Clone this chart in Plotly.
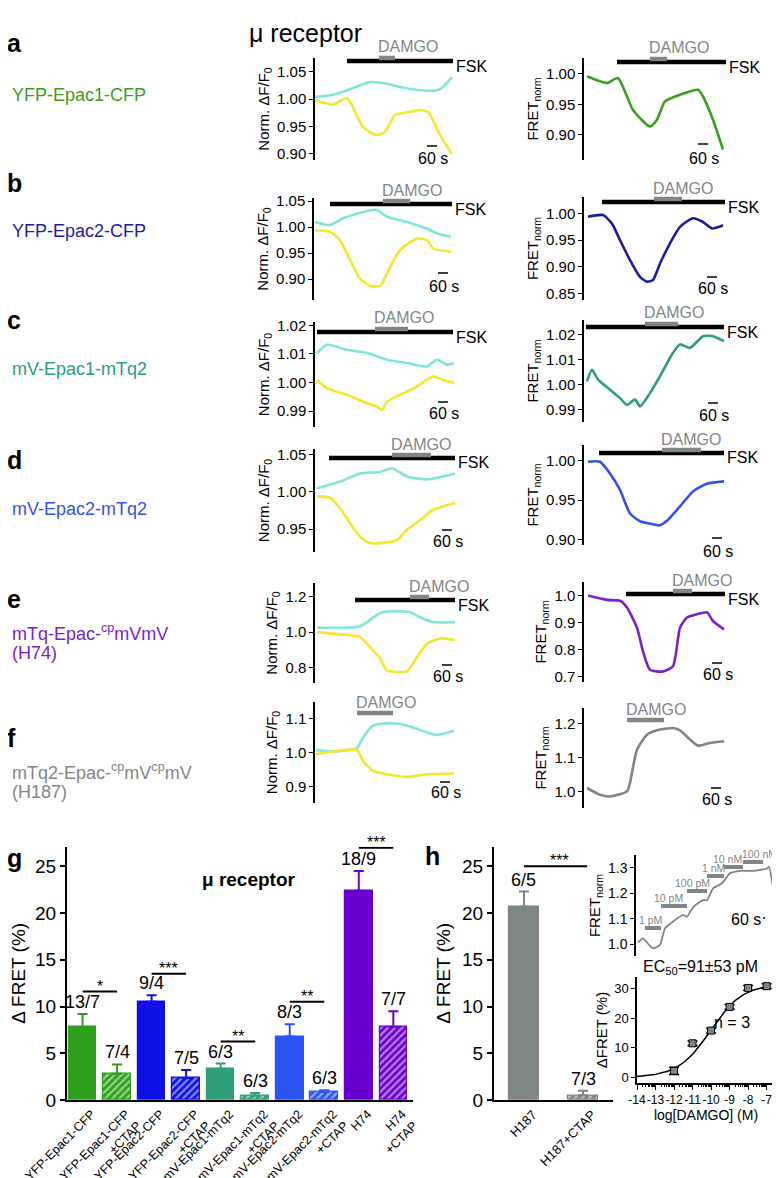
import math
import plotly.graph_objects as go

W, H = 780, 1178
OFF = 8                      # browser body margin offset
FW, FH = W - OFF, H - OFF    # figure size so that page == 780 x 1178
FONT = "Liberation Sans, Arial, Helvetica, sans-serif"

# ---------------- trace data (time in s from trace start, normalized values) ----------------
# panel a
A_L_T_CYAN = [0, 108, 192, 330, 432, 510, 672, 750, 822]
A_L_CYAN = [1.004, 1.008, 1.016, 1.031, 1.028, 1.022, 1.015, 1.018, 1.040]
A_L_T_YEL = [0, 108, 192, 288, 366, 420, 480, 552, 642, 684, 744, 822]
A_L_YEL = [0.998, 0.990, 1.002, 0.949, 0.935, 0.940, 0.971, 0.976, 0.980, 0.975, 0.938, 0.900]
A_R_T = [0, 120, 186, 276, 378, 420, 468, 558, 666, 696, 756, 816]
A_R = [0.996, 0.985, 0.993, 0.941, 0.914, 0.925, 0.955, 0.966, 0.974, 0.963, 0.925, 0.876]
A_L_FSK, A_L_DAMGO = [192, 828], [384, 480]
A_R_FSK, A_R_DAMGO = [180, 834], [378, 480]

# panel b
B_L_T_CYAN = [0, 90, 168, 312, 372, 432, 552, 672, 732, 816]
B_L_CYAN = [1.010, 1.004, 1.017, 1.031, 1.033, 1.020, 1.010, 0.997, 0.988, 0.981]
B_L_T_YEL = [0, 90, 150, 210, 270, 330, 390, 432, 510, 612, 672, 708, 816]
B_L_YEL = [0.994, 0.991, 0.975, 0.937, 0.901, 0.887, 0.887, 0.911, 0.956, 0.978, 0.975, 0.959, 0.953]
B_R_T = [0, 90, 144, 192, 252, 312, 354, 390, 432, 492, 552, 630, 690, 744, 810]
B_R = [0.994, 0.997, 0.981, 0.950, 0.9125, 0.881, 0.872, 0.875, 0.906, 0.944, 0.975, 0.991, 0.984, 0.972, 0.978]
B_L_FSK, B_L_DAMGO = [90, 822], [408, 570]
B_R_FSK, B_R_DAMGO = [84, 822], [396, 564]

# panel c
C_L_T_CYAN = [0, 60, 180, 300, 420, 540, 660, 720, 780, 822]
C_L_CYAN = [1.0103, 1.0132, 1.0115, 1.0103, 1.0080, 1.0068, 1.0056, 1.0080, 1.0062, 1.0068]
C_L_T_YEL = [0, 60, 180, 300, 360, 390, 420, 498, 600, 696, 756, 822]
C_L_YEL = [1.0009, 0.9980, 0.9957, 0.9927, 0.9916, 0.9904, 0.9933, 0.9957, 0.9986, 1.0021, 1.0009, 0.9998]
C_R_T = [0, 30, 66, 138, 198, 240, 288, 318, 378, 438, 516, 558, 618, 696, 756, 822]
C_R = [1.0013, 1.0060, 1.0020, 0.9980, 0.9946, 0.9919, 0.9940, 0.9913, 0.9966, 1.0034, 1.0128, 1.0162, 1.0148, 1.0195, 1.0195, 1.0175]
C_L_FSK, C_L_DAMGO = [0, 816], [348, 546]
C_R_FSK, C_R_DAMGO = [-6, 822], [348, 546]

# panel d
D_L_T_CYAN = [0, 138, 258, 378, 450, 540, 660, 756, 828]
D_L_CYAN = [1.005, 1.014, 1.025, 1.027, 1.032, 1.021, 1.017, 1.021, 1.025]
D_L_T_YEL = [0, 78, 138, 198, 258, 318, 420, 480, 540, 618, 696, 780, 828]
D_L_YEL = [0.994, 0.992, 0.978, 0.958, 0.940, 0.931, 0.932, 0.935, 0.949, 0.962, 0.976, 0.982, 0.985]
D_R_T = [0, 72, 132, 192, 252, 312, 372, 432, 480, 552, 630, 714, 816]
D_R = [0.999, 0.999, 0.984, 0.963, 0.933, 0.923, 0.920, 0.918, 0.925, 0.942, 0.961, 0.971, 0.974]
D_L_FSK, D_L_DAMGO = [72, 828], [450, 684]
D_R_FSK, D_R_DAMGO = [66, 816], [444, 678]

# panel e
E_L_T_CYAN = [0, 258, 300, 378, 456, 558, 618, 696, 828]
E_L_CYAN = [1.025, 1.032, 1.057, 1.108, 1.119, 1.113, 1.085, 1.057, 1.057]
E_L_T_YEL = [0, 138, 258, 318, 378, 420, 540, 600, 660, 738, 828]
E_L_YEL = [1.000, 0.987, 0.972, 0.915, 0.851, 0.783, 0.777, 0.858, 0.934, 0.964, 0.955]
E_R_T = [0, 114, 192, 234, 294, 330, 372, 450, 510, 552, 594, 654, 714, 750, 816]
E_R = [1.000, 0.984, 0.981, 0.956, 0.881, 0.794, 0.726, 0.720, 0.739, 0.881, 0.919, 0.931, 0.938, 0.906, 0.875]
E_L_FSK, E_L_DAMGO = [228, 828], [558, 672]
E_R_FSK, E_R_DAMGO = [228, 822], [510, 624]

# panel f
F_L_T_CYAN = [0, 102, 186, 246, 282, 342, 426, 504, 582, 666, 726, 828]
F_L_CYAN = [1.007, 1.003, 1.007, 1.013, 1.044, 1.079, 1.086, 1.084, 1.074, 1.059, 1.052, 1.064]
F_L_T_YEL = [0, 102, 246, 282, 342, 426, 546, 666, 828]
F_L_YEL = [0.995, 1.003, 1.007, 0.975, 0.946, 0.936, 0.928, 0.936, 0.938]
F_R_T = [0, 78, 138, 240, 258, 300, 360, 420, 516, 558, 618, 666, 738, 822]
F_R = [1.010, 0.990, 0.985, 1.000, 1.025, 1.123, 1.167, 1.180, 1.187, 1.180, 1.153, 1.135, 1.143, 1.148]
F_L_DAMGO = [246, 462]
F_R_DAMGO = [240, 462]

# panel g (bar chart)
G_LABELS = ["YFP-Epac1-CFP", "YFP-Epac1-CFP<br>+CTAP", "YFP-Epac2-CFP", "YFP-Epac2-CFP<br>+CTAP",
            "mV-Epac1-mTq2", "mV-Epac1-mTq2<br>+CTAP", "mV-Epac2-mTq2", "mV-Epac2-mTq2<br>+CTAP",
            "H74", "H74<br>+CTAP"]
G_VALUES = [7.8, 2.8, 10.5, 2.35, 3.35, 0.45, 6.8, 0.85, 22.4, 7.85]
G_SEM = [1.4, 1.0, 0.7, 0.85, 0.55, 0.3, 1.3, 0.2, 2.1, 1.65]
G_N = ["13/7", "7/4", "9/4", "7/5", "6/3", "6/3", "8/3", "6/3", "18/9", "7/7"]
G_SIG = [(0, 1, 11.6, "*"), (2, 3, 13.5, "***"), (4, 5, 6.25, "**"), (6, 7, 10.5, "**"), (8, 9, 27.0, "***")]

# panel h (bar chart)
H_LABELS = ["H187", "H187+CTAP"]
H_VALUES = [20.7, 0.5]
H_SEM = [1.6, 0.5]
H_N = ["6/5", "7/3"]
H_SIG = [(0, 1, 25.0, "***")]

# panel h inset: concentration series trace
INSET_T = [0, 150, 360, 450, 660, 810, 1050, 1350, 1470, 1650, 1950, 2070, 2250, 2520, 2760, 3060, 3450, 3870, 3930, 4050, 4170]
INSET_V = [1.007, 1.023, 0.993, 0.984, 0.997, 1.063, 1.089, 1.115, 1.108, 1.145, 1.173, 1.173, 1.219, 1.239, 1.278,
           1.288, 1.288, 1.297, 1.304, 1.226, 1.147]
CONC_LABELS = ["1 pM", "10 pM", "100 pM", "1 nM", "10 nM", "100 nM"]
CONC_START = [210, 690, 1470, 2070, 2580, 3150]
CONC_END = [690, 1470, 2070, 2580, 3150, 3750]

# panel h inset: concentration-response
DR_LOGC = [-12, -11, -10, -9, -8, -7]
DR_MEAN = [2.2, 11.5, 15.8, 23.8, 30.2, 30.8]
DR_SEM = [1.2, 0.8, 0.8, 0.8, 0.8, 0.8]
FIT_LOG_EC50 = -10.04
FIT_HILL = 0.5
FIT_TOP = 31.5

# ---------------- colours ----------------
CYAN = "#80E6D8"
YELLOW = "#F2E82E"
C_GREEN = "#3A9F1C"
C_NAVY = "#1E1E9C"
C_TEAL = "#2E9E7C"
C_BLUE = "#3352E6"
C_PURPLE = "#7A22C8"
C_GRAY = "#7F8786"
BAR_COLORS = ["#2EA11C", "#2EA11C", "#0E10E6", "#0E10E6", "#2E9F78", "#2E9F78",
              "#2B55F2", "#2B55F2", "#6A00D0", "#6A00D0"]
BAR_HATCH = [False, True] * 5


def fx(x):
    return (x - OFF) / FW


def fy(y):
    return 1 - (y - OFF) / FH


fig = go.Figure()
layout = {}
shapes = []
annotations = []

TITLE_L = "Norm. ΔF/F<sub>0</sub>"
TITLE_R = "FRET<sub>norm</sub>"

panels = [
    dict(ax=315, t0=315, top=58, bot=160, yr=[0.889, 1.075], ticks=[0.90, 0.95, 1.00, 1.05], dec=2,
         fsk_y=61, sc=(432, 146, 158), title=TITLE_L,
         lines=[(A_L_T_CYAN, A_L_CYAN, CYAN), (A_L_T_YEL, A_L_YEL, YELLOW)], fsk=A_L_FSK, damgo=A_L_DAMGO),
    dict(ax=584, t0=587, top=58, bot=160, yr=[0.859, 1.026], ticks=[0.90, 0.95, 1.00], dec=2,
         fsk_y=62, sc=(703, 144, 158), title=TITLE_R,
         lines=[(A_R_T, A_R, C_GREEN)], fsk=A_R_FSK, damgo=A_R_DAMGO),
    dict(ax=314, t0=315, top=198, bot=300, yr=[0.860, 1.056], ticks=[0.90, 0.95, 1.00, 1.05], dec=2,
         fsk_y=204, sc=(443, 273, 286), title=TITLE_L,
         lines=[(B_L_T_CYAN, B_L_CYAN, CYAN), (B_L_T_YEL, B_L_YEL, YELLOW)], fsk=B_L_FSK, damgo=B_L_DAMGO),
    dict(ax=584, t0=588, top=197, bot=300, yr=[0.8375, 1.031], ticks=[0.85, 0.90, 0.95, 1.00], dec=2,
         fsk_y=202, sc=(712, 277, 288), title=TITLE_R,
         lines=[(B_R_T, B_R, C_NAVY)], fsk=B_R_FSK, damgo=B_R_DAMGO),
    dict(ax=315, t0=317, top=322, bot=427, yr=[0.9844, 1.0212], ticks=[0.99, 1.00, 1.01, 1.02], dec=2,
         fsk_y=332, sc=(443, 402, 413), title=TITLE_L,
         lines=[(C_L_T_CYAN, C_L_CYAN, CYAN), (C_L_T_YEL, C_L_YEL, YELLOW)], fsk=C_L_FSK, damgo=C_L_DAMGO),
    dict(ax=584, t0=587, top=320, bot=422, yr=[0.985, 1.026], ticks=[0.99, 1.00, 1.01, 1.02], dec=2,
         fsk_y=327, sc=(713, 403, 415), title=TITLE_R,
         lines=[(C_R_T, C_R, C_TEAL)], fsk=C_R_FSK, damgo=C_R_DAMGO),
    dict(ax=315, t0=317, top=449, bot=552, yr=[0.919, 1.058], ticks=[0.95, 1.00, 1.05], dec=2,
         fsk_y=458, sc=(447, 530, 542), title=TITLE_L,
         lines=[(D_L_T_CYAN, D_L_CYAN, CYAN), (D_L_T_YEL, D_L_YEL, YELLOW)], fsk=D_L_FSK, damgo=D_L_DAMGO),
    dict(ax=584, t0=588, top=445, bot=545, yr=[0.8927, 1.0204], ticks=[0.90, 0.95, 1.00], dec=2,
         fsk_y=453, sc=(717, 538, 551), title=TITLE_R,
         lines=[(D_R_T, D_R, C_BLUE)], fsk=D_R_FSK, damgo=D_R_DAMGO),
    dict(ax=315, t0=317, top=583, bot=683, yr=[0.711, 1.279], ticks=[0.8, 1.0, 1.2], dec=1,
         fsk_y=600, sc=(447, 665, 676), title=TITLE_L,
         lines=[(E_L_T_CYAN, E_L_CYAN, CYAN), (E_L_T_YEL, E_L_YEL, YELLOW)], fsk=E_L_FSK, damgo=E_L_DAMGO),
    dict(ax=584, t0=588, top=582, bot=682, yr=[0.681, 1.05], ticks=[0.7, 0.8, 0.9, 1.0], dec=1,
         fsk_y=594, sc=(717, 663, 674), title=TITLE_R,
         lines=[(E_R_T, E_R, C_PURPLE)], fsk=E_R_FSK, damgo=E_R_DAMGO),
    dict(ax=315, t0=316, top=702, bot=803, yr=[0.851, 1.149], ticks=[0.9, 1.0, 1.1], dec=1,
         fsk_y=None, damgo_y=713, sc=(445, 782, 793), title=TITLE_L,
         lines=[(F_L_T_CYAN, F_L_CYAN, CYAN), (F_L_T_YEL, F_L_YEL, YELLOW)], fsk=None, damgo=F_L_DAMGO),
    dict(ax=584, t0=587, top=708, bot=808, yr=[0.951, 1.246], ticks=[1.0, 1.1, 1.2], dec=1,
         fsk_y=None, damgo_y=720, sc=(716, 788, 799), title=TITLE_R,
         lines=[(F_R_T, F_R, C_GRAY)], fsk=None, damgo=F_R_DAMGO),
]

SPP = 6.0  # seconds per pixel in trace panels
axis_font = dict(family=FONT, size=15, color="black")


def ysty(**kw):
    d = dict(showline=True, linecolor="black", linewidth=1.5, ticks="outside", ticklen=4, tickwidth=1.3,
             tickcolor="black", showgrid=False, zeroline=False, tickfont=axis_font, automargin=False)
    d.update(kw)
    return d


for i, p in enumerate(panels, start=1):
    s = "" if i == 1 else str(i)
    xr = [(p["ax"] - p["t0"]) * SPP, (p["ax"] + 150 - p["t0"]) * SPP]
    layout["xaxis" + s] = dict(domain=[fx(p["ax"]), fx(p["ax"] + 150)], range=xr, visible=False,
                               anchor="y" + s, automargin=False)
    layout["yaxis" + s] = ysty(domain=[fy(p["bot"]), fy(p["top"])], range=p["yr"], anchor="x" + s,
                               tickvals=p["ticks"], ticktext=[f"{v:.{p['dec']}f}" for v in p["ticks"]],
                               title=dict(text=p["title"], font=dict(family=FONT, size=15, color="black"),
                                          standoff=4))
    for t, v, c in p["lines"]:
        fig.add_trace(go.Scatter(x=t, y=v, xaxis="x" + s, yaxis="y" + s, mode="lines",
                                 line=dict(color=c, width=2.6, shape="spline", smoothing=0.6),
                                 hoverinfo="skip"))
    xref = "x" + s
    if p["fsk"] is not None:
        fsk_y = p["fsk_y"]
        shapes.append(dict(type="line", xref=xref, yref="paper", x0=p["fsk"][0], x1=p["fsk"][1],
                           y0=fy(fsk_y), y1=fy(fsk_y), line=dict(color="black", width=4.5)))
        annotations.append(dict(x=p["fsk"][1], y=fy(fsk_y + 5), xref=xref, yref="paper", text="FSK",
                                showarrow=False, xanchor="left", yanchor="middle", xshift=1,
                                font=dict(family=FONT, size=16, color="black")))
        damgo_y = fsk_y - 3
        dtext_y = fsk_y - 14
    else:
        damgo_y = p["damgo_y"]
        dtext_y = damgo_y - 11
    shapes.append(dict(type="line", xref=xref, yref="paper", x0=p["damgo"][0], x1=p["damgo"][1],
                       y0=fy(damgo_y), y1=fy(damgo_y), line=dict(color=C_GRAY, width=4.5)))
    annotations.append(dict(x=p["damgo"][0], y=fy(dtext_y), xref=xref, yref="paper", text="DAMGO",
                            showarrow=False, xanchor="left", yanchor="middle", xshift=-3,
                            font=dict(family=FONT, size=16, color=C_GRAY)))
    # 60 s scale bar
    cx, by, ty = p["sc"]
    x0 = (cx - 5 - p["t0"]) * SPP
    shapes.append(dict(type="line", xref=xref, yref="paper", x0=x0, x1=x0 + 60, y0=fy(by), y1=fy(by),
                       line=dict(color="black", width=1.5)))
    annotations.append(dict(x=fx(cx + 1), y=fy(ty), xref="paper", yref="paper", text="60 s", showarrow=False,
                            xanchor="center", yanchor="middle", font=dict(family=FONT, size=16, color="black")))

# ---------------- panel g ----------------
layout["xaxis13"] = dict(domain=[fx(67), fx(413)], range=[-0.45, 9.57], anchor="y13", showline=True,
                         linecolor="black", linewidth=2, ticks="", tickvals=list(range(len(G_LABELS))),
                         ticktext=G_LABELS, tickangle=-45, showgrid=False, zeroline=False, automargin=False,
                         ticklabelshift=9, ticklabelstandoff=0,
                         tickfont=dict(family=FONT, size=12.5, color="black"))
layout["yaxis13"] = ysty(domain=[fy(1100), fy(846.7)], range=[0, 27.1], anchor="x13",
                         tickvals=[0, 5, 10, 15, 20, 25], linewidth=2, ticklen=5, tickwidth=1.5,
                         tickfont=dict(family=FONT, size=19, color="black"),
                         title=dict(text="Δ FRET (%)", font=dict(family=FONT, size=19, color="black"), standoff=6))
for k in range(len(G_VALUES)):
    col = BAR_COLORS[k]
    marker = dict(color=col, line=dict(color=col, width=1.2))
    if BAR_HATCH[k]:
        marker["pattern"] = dict(shape="/", fgcolor="white", bgcolor=col, size=5, solidity=0.45,
                                 fillmode="overlay")
    fig.add_trace(go.Bar(x=[k], y=[G_VALUES[k]], xaxis="x13", yaxis="y13", width=0.8, marker=marker,
                         error_y=dict(type="data", array=[G_SEM[k]], arrayminus=[0], symmetric=False,
                                      color=col, thickness=2, width=5), hoverinfo="skip"))
    annotations.append(dict(x=k, y=G_VALUES[k] + G_SEM[k], xref="x13", yref="y13", text=G_N[k],
                            showarrow=False, yanchor="bottom", xanchor="center", yshift=0,
                            font=dict(family=FONT, size=18, color="black")))
for a, b, yv, star in G_SIG:
    shapes.append(dict(type="line", xref="x13", yref="y13", x0=a, x1=b, y0=yv, y1=yv,
                       line=dict(color="black", width=2)))
    annotations.append(dict(x=(a + b) / 2, y=yv, xref="x13", yref="y13", text=star, showarrow=False,
                            yanchor="bottom", yshift=-5, font=dict(family=FONT, size=16, color="black")))
annotations.append(dict(x=fx(200), y=fy(892), xref="paper", yref="paper", text="<b>μ receptor</b>",
                        showarrow=False, font=dict(family=FONT, size=19, color="black")))

# ---------------- panel h bars ----------------
layout["xaxis14"] = dict(domain=[fx(494), fx(613)], range=[-0.508, 1.508], anchor="y14", showline=True,
                         linecolor="black", linewidth=2, ticks="", tickvals=[0, 1], ticktext=H_LABELS,
                         tickangle=-45, showgrid=False, zeroline=False, automargin=False,
                         ticklabelshift=9, ticklabelstandoff=0,
                         tickfont=dict(family=FONT, size=13, color="black"))
layout["yaxis14"] = ysty(domain=[fy(1100), fy(846.7)], range=[0, 27.1], anchor="x14",
                         tickvals=[0, 5, 10, 15, 20, 25], linewidth=2, ticklen=5, tickwidth=1.5,
                         tickfont=dict(family=FONT, size=19, color="black"),
                         title=dict(text="Δ FRET (%)", font=dict(family=FONT, size=19, color="black"), standoff=6))
for k in range(len(H_VALUES)):
    marker = dict(color=C_GRAY, line=dict(color=C_GRAY, width=1.2))
    if k == 1:
        marker["pattern"] = dict(shape="/", fgcolor="white", bgcolor=C_GRAY, size=5, solidity=0.45,
                                 fillmode="overlay")
    fig.add_trace(go.Bar(x=[k], y=[H_VALUES[k]], xaxis="x14", yaxis="y14", width=0.51, marker=marker,
                         error_y=dict(type="data", array=[H_SEM[k]], arrayminus=[0], symmetric=False,
                                      color=C_GRAY, thickness=2, width=5), hoverinfo="skip"))
    annotations.append(dict(x=k, y=H_VALUES[k] + H_SEM[k], xref="x14", yref="y14", text=H_N[k],
                            showarrow=False, yanchor="bottom", font=dict(family=FONT, size=18, color="black")))
for a, b, yv, star in H_SIG:
    shapes.append(dict(type="line", xref="x14", yref="y14", x0=a, x1=b + 0.07, y0=yv, y1=yv,
                       line=dict(color="black", width=2)))
    annotations.append(dict(x=(a + b) / 2 + 0.1, y=yv, xref="x14", yref="y14", text=star, showarrow=False,
                            yanchor="bottom", yshift=-5, font=dict(family=FONT, size=16, color="black")))

# ---------------- panel h inset trace ----------------
IN_SPP = 30.0
layout["xaxis15"] = dict(domain=[fx(636), fx(780)], range=[(636 - 638) * IN_SPP, (780 - 638) * IN_SPP],
                         visible=False, anchor="y15", automargin=False)
layout["yaxis15"] = ysty(domain=[fy(956), fy(855)], range=[0.954, 1.35], anchor="x15",
                         tickvals=[1.0, 1.1, 1.2, 1.3], ticktext=["1.0", "1.1", "1.2", "1.3"],
                         tickfont=dict(family=FONT, size=14, color="black"),
                         title=dict(text="FRET<sub>norm</sub>", font=dict(family=FONT, size=15, color="black"),
                                    standoff=4))
fig.add_trace(go.Scatter(x=INSET_T, y=INSET_V, xaxis="x15", yaxis="y15", mode="lines",
                         line=dict(color=C_GRAY, width=1.8, shape="spline", smoothing=0.5), hoverinfo="skip"))
CONC_BAR_Y = [928, 906, 891, 876, 867, 862]
CONC_TEXT_DX = [-3, -6, -5, -2, -6, 6]      # label offsets (px) relative to bar centre
for lab, t0, t1, by, dxl in zip(CONC_LABELS, CONC_START, CONC_END, CONC_BAR_Y, CONC_TEXT_DX):
    shapes.append(dict(type="line", xref="x15", yref="paper", x0=t0, x1=t1, y0=fy(by), y1=fy(by),
                       line=dict(color=C_GRAY, width=4)))
    annotations.append(dict(x=(t0 + t1) / 2, y=fy(by - 8.5), xref="x15", yref="paper", text=lab,
                            showarrow=False, yanchor="middle", xshift=dxl,
                            font=dict(family=FONT, size=10.5, color=C_GRAY)))
shapes.append(dict(type="line", xref="x15", yref="paper", x0=3750, x1=3810, y0=fy(918), y1=fy(918),
                   line=dict(color="black", width=1.5)))
annotations.append(dict(x=fx(763), y=fy(930), xref="paper", yref="paper", text="60 s", showarrow=False,
                        font=dict(family=FONT, size=16, color="black")))

# ---------------- panel h concentration-response ----------------
minor_vals = [d + math.log10(m) for d in range(-14, -7) for m in range(2, 10)]
layout["xaxis16"] = dict(domain=[fx(637), fx(775)], range=[-14, -6.55], anchor="y16", showline=True,
                         linecolor="black", linewidth=1.5, ticks="outside", ticklen=5, tickwidth=1.3,
                         tickcolor="black", tickvals=list(range(-14, -6)), automargin=False, tickangle=0,
                         ticktext=[str(v) for v in range(-14, -6)], showgrid=False, zeroline=False,
                         tickfont=dict(family=FONT, size=12, color="black"),
                         minor=dict(tickvals=minor_vals, ticks="outside", ticklen=2.5, tickcolor="black",
                                    tickwidth=1),
                         title=dict(text="log[DAMGO] (M)", font=dict(family=FONT, size=14, color="black"),
                                    standoff=1))
layout["yaxis16"] = ysty(domain=[fy(1083), fy(977)], range=[-1.9, 33.9], anchor="x16",
                         tickvals=[0, 10, 20, 30], tickfont=dict(family=FONT, size=13, color="black"),
                         title=dict(text="ΔFRET (%)", font=dict(family=FONT, size=15, color="black"), standoff=3))
fit_x = [-14 + 0.05 * k for k in range(141)]
fit_y = [FIT_TOP / (1 + 10 ** ((FIT_LOG_EC50 - xv) * FIT_HILL)) for xv in fit_x]
fig.add_trace(go.Scatter(x=fit_x, y=fit_y, xaxis="x16", yaxis="y16", mode="lines",
                         line=dict(color="black", width=1.5), hoverinfo="skip"))
fig.add_trace(go.Scatter(x=DR_LOGC, y=DR_MEAN, xaxis="x16", yaxis="y16", mode="markers",
                         marker=dict(symbol="square", size=7, color=C_GRAY, line=dict(color="black", width=1)),
                         error_y=dict(type="data", array=DR_SEM, color="black", thickness=1.5, width=5),
                         hoverinfo="skip"))
annotations.append(dict(x=fx(641), y=fy(979), xref="paper", yref="paper", text="EC<sub>50</sub>=91±53 pM",
                        showarrow=False, xanchor="left", font=dict(family=FONT, size=16, color="black")))
annotations.append(dict(x=fx(752), y=fy(1033), xref="paper", yref="paper", text="n = 3",
                        showarrow=False, font=dict(family=FONT, size=16, color="black")))

# ---------------- labels ----------------
annotations.append(dict(x=fx(305), y=fy(17), xref="paper", yref="paper", text="μ receptor", showarrow=False,
                        font=dict(family=FONT, size=25, color="black")))
for letter, lx, ly in [("a", 8, 43), ("b", 8, 183), ("c", 8, 320), ("d", 8, 460), ("e", 8, 599),
                       ("f", 8, 738), ("g", 8, 858), ("h", 426, 856)]:
    annotations.append(dict(x=fx(lx), y=fy(ly), xref="paper", yref="paper", text=f"<b>{letter}</b>",
                            showarrow=False, xanchor="left", yanchor="middle", xshift=-3,
                            font=dict(family=FONT, size=25, color="black")))
for txt, col, ly in [("YFP-Epac1-CFP", C_GREEN, 95), ("YFP-Epac2-CFP", C_NAVY, 231),
                     ("mV-Epac1-mTq2", C_TEAL, 369), ("mV-Epac2-mTq2", C_BLUE, 509),
                     ("mTq-Epac-<sup>cp</sup>mVmV", C_PURPLE, 632), ("(H74)", C_PURPLE, 653),
                     ("mTq2-Epac-<sup>cp</sup>mV<sup>cp</sup>mV", C_GRAY, 771), ("(H187)", C_GRAY, 792)]:
    annotations.append(dict(x=fx(10), y=fy(ly), xref="paper", yref="paper", text=txt, showarrow=False,
                            xanchor="left", yanchor="middle", font=dict(family=FONT, size=18, color=col)))

layout.update(dict(width=FW, height=FH, margin=dict(l=0, r=0, t=0, b=0, autoexpand=False),
                   paper_bgcolor="white", plot_bgcolor="rgba(0,0,0,0)", showlegend=False, shapes=shapes,
                   annotations=annotations, font=dict(family=FONT, color="black"), bargap=0))
fig.update_layout(**layout)
fig.write_html("out.html")
